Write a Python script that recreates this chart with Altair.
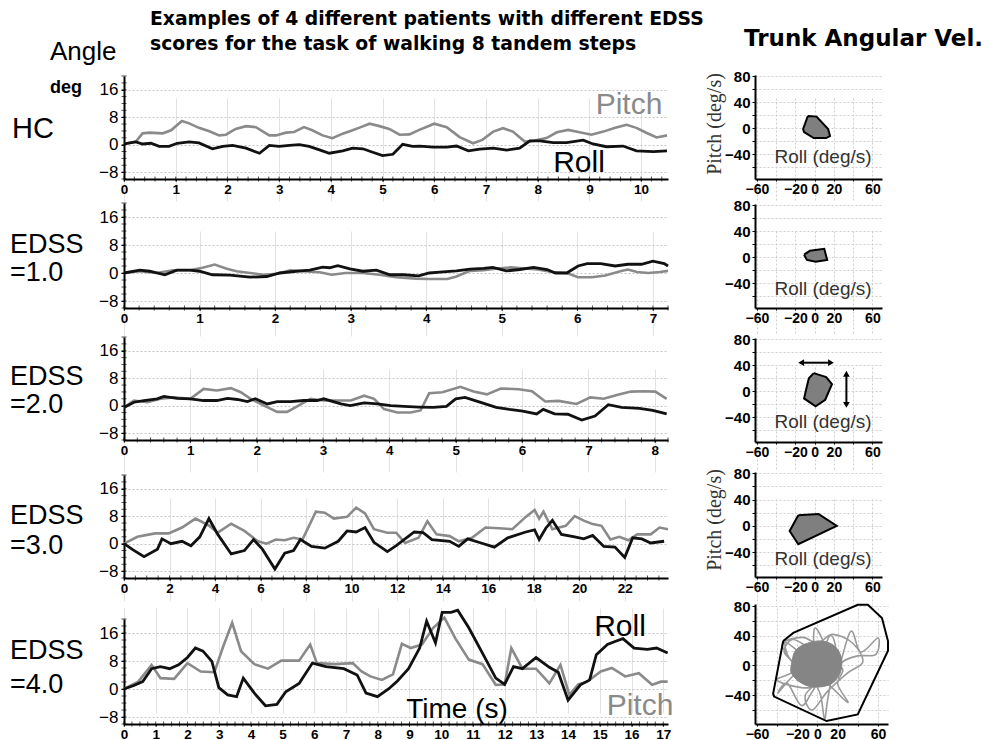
import altair as alt
import pandas as pd
import numpy as np

# ---------------- data ----------------
HC_PITCH_T = [0, 0.23, 0.36, 0.49, 0.75, 0.91, 1.12, 1.26, 1.45, 1.65, 1.84, 1.97, 2.16, 2.36, 2.55, 2.81, 2.94, 3.13, 3.29, 3.48, 3.64, 3.84, 4.03, 4.23, 4.42, 4.58, 4.75, 4.94, 5.13, 5.33, 5.52, 5.71, 6.0, 6.24, 6.49, 6.75, 6.93, 7.14, 7.33, 7.52, 7.75, 7.92, 8.17, 8.37, 8.59, 8.81, 9.04, 9.27, 9.5, 9.72, 9.91, 10.11, 10.3, 10.5]
HC_PITCH_V = [0.2, 0.9, 3.3, 3.5, 3.3, 4.2, 6.9, 6.2, 4.9, 3.9, 2.7, 2.9, 4.6, 5.4, 5.1, 2.7, 2.7, 3.5, 3.7, 5.1, 4.2, 2.7, 1.9, 3.2, 4.2, 5.1, 6.1, 5.4, 4.6, 2.9, 3.0, 4.3, 6.1, 5.1, 2.2, 0.4, 1.4, 3.8, 4.8, 3.8, 0.9, 1.1, 1.9, 3.6, 4.3, 3.6, 2.9, 3.8, 4.9, 5.8, 4.9, 3.4, 2.1, 2.7]
HC_ROLL_T = [0, 0.23, 0.36, 0.52, 0.68, 0.87, 1.03, 1.26, 1.45, 1.71, 1.91, 2.1, 2.36, 2.62, 2.81, 3.0, 3.2, 3.39, 3.58, 3.78, 3.97, 4.23, 4.42, 4.62, 4.81, 5.0, 5.2, 5.39, 5.58, 5.72, 5.98, 6.24, 6.43, 6.66, 6.88, 7.14, 7.4, 7.65, 7.85, 8.04, 8.3, 8.56, 8.88, 9.07, 9.33, 9.65, 9.91, 10.24, 10.5]
HC_ROLL_V = [0.2, 0.8, 0.2, 0.4, -0.5, -0.5, 0.4, 0.8, 0.5, -1.2, -0.5, -0.2, -1.0, -2.5, -0.2, -0.5, -0.2, 0, -0.5, -1.5, -2.5, -1.8, -1.0, -1.2, -2.2, -3.2, -2.8, 0.1, -0.5, -0.4, -0.7, -0.7, -0.4, -1.8, -1.3, -1.0, -1.6, -1.0, 1.1, 1.1, 0.6, 0.6, 1.3, 0.2, -0.6, -0.4, -1.8, -2.0, -1.8]

E1_PITCH_T = [0, 0.21, 0.43, 0.65, 0.87, 1.04, 1.2, 1.36, 1.49, 1.67, 1.85, 2.03, 2.2, 2.37, 2.59, 2.75, 2.93, 3.16, 3.38, 3.6, 3.86, 4.04, 4.28, 4.4, 4.58, 4.76, 4.94, 5.12, 5.3, 5.48, 5.66, 5.86, 6.01, 6.19, 6.37, 6.58, 6.67, 6.79, 6.94, 7.09, 7.2]
E1_PITCH_V = [0, 0.5, 0, 0.8, 0.8, 1.5, 2.4, 1.2, 0.5, 0, -0.5, -0.2, 0.8, 0.5, 0.2, -0.5, 0, 0, -0.5, -1.2, -1.6, -1.7, -1.7, -1.0, 0.6, 0.8, 1.3, 1.6, 1.3, 1.0, 0.3, 0, -1.2, -1.2, -0.7, 0.6, 1.0, 0.3, 0, 0.3, 0.6]
E1_ROLL_T = [0, 0.21, 0.34, 0.54, 0.7, 0.87, 1.0, 1.17, 1.4, 1.67, 1.89, 2.06, 2.28, 2.46, 2.63, 2.72, 2.83, 2.99, 3.16, 3.34, 3.52, 3.7, 3.9, 4.04, 4.22, 4.4, 4.58, 4.76, 4.88, 5.06, 5.24, 5.42, 5.6, 5.71, 5.86, 6.01, 6.13, 6.31, 6.5, 6.67, 6.85, 7.0, 7.15, 7.2]
E1_ROLL_V = [0, 0.8, 0.5, -0.5, 0.8, 0.8, 0.5, -0.5, -0.6, -1.2, -1.0, 0, 0.5, 0.8, 1.7, 1.5, 2.1, 1.2, 0.5, 0.8, -0.5, -0.5, -0.8, 0, 0.3, 0.6, 1.1, 1.3, 1.6, 0.6, 1.0, 1.6, 1.0, 0, 0, 2.0, 2.7, 2.7, 2.0, 2.5, 2.5, 3.4, 2.7, 2.0]

E2_PITCH_T = [0, 0.15, 0.35, 0.55, 0.75, 1.0, 1.2, 1.4, 1.61, 1.76, 1.91, 2.11, 2.31, 2.46, 2.61, 2.81, 3.01, 3.22, 3.42, 3.62, 3.77, 3.92, 4.12, 4.32, 4.47, 4.6, 4.8, 5.07, 5.27, 5.47, 5.68, 5.95, 6.15, 6.35, 6.55, 6.82, 7.03, 7.23, 7.43, 7.64, 7.84, 8.01, 8.18]
E2_PITCH_V = [-0.5, 1.5, 1.0, 2.0, 2.4, 2.0, 4.9, 4.4, 5.1, 3.9, 2.0, 0, -1.8, -1.8, -0.2, 2.0, 1.5, 1.5, 1.5, 2.9, 2.0, -1.0, -2.0, -2.0, -1.4, 3.6, 3.9, 5.5, 4.1, 3.3, 5.0, 4.8, 4.2, 1.2, 1.4, 0.5, 2.4, 2.0, 3.1, 4.1, 4.2, 4.1, 2.0]
E2_ROLL_T = [0, 0.15, 0.3, 0.5, 0.6, 0.8, 1.0, 1.2, 1.4, 1.56, 1.71, 1.86, 1.98, 2.16, 2.31, 2.51, 2.71, 2.91, 3.01, 3.27, 3.41, 3.62, 3.82, 4.02, 4.22, 4.45, 4.66, 4.86, 5.0, 5.14, 5.34, 5.61, 5.81, 6.01, 6.22, 6.32, 6.49, 6.69, 6.9, 7.1, 7.3, 7.5, 7.77, 7.97, 8.18]
E2_ROLL_V = [-0.5, 1.0, 1.5, 2.0, 2.7, 2.1, 2.0, 1.5, 1.5, 2.1, 1.8, 1.2, 2.0, 0.5, 1.2, 1.2, 1.5, 1.5, 2.0, 0.5, 0, 0.8, 0.5, 0, -0.2, -0.4, -0.5, -0.2, 2.0, 2.4, 1.2, -0.5, -1.1, -1.6, -2.4, -1.1, -2.4, -2.5, -4.2, -3.0, 0.3, -0.5, -0.8, -1.4, -2.4]

E3_PITCH_T = [0, 0.59, 1.37, 1.96, 2.55, 3.14, 3.73, 4.12, 4.71, 5.29, 5.88, 6.27, 6.67, 7.06, 7.45, 7.84, 8.43, 8.82, 9.22, 9.8, 10.2, 10.59, 10.98, 11.57, 11.96, 12.35, 12.94, 13.33, 13.73, 14.31, 14.71, 15.29, 15.88, 16.47, 17.06, 17.65, 18.04, 18.24, 18.43, 18.82, 19.41, 19.8, 20.2, 20.59, 20.98, 21.37, 21.76, 22.16, 22.55, 23.14, 23.53, 23.9]
E3_PITCH_V = [0, 2.0, 3.0, 3.0, 4.7, 7.3, 5.3, 3.2, 5.8, 3.7, 0.7, 0, 1.2, 1.0, 1.7, 1.2, 9.3, 9.0, 7.3, 7.8, 10.5, 8.8, 4.2, 3.2, 3.2, 0.2, 1.7, 6.5, 2.7, 2.2, 0.7, 1.7, 4.7, 4.5, 4.2, 7.8, 9.8, 7.3, 9.3, 4.2, 5.2, 8.0, 6.7, 5.7, 5.2, 1.2, 2.0, 1.0, 2.7, 2.7, 4.7, 4.2]
E3_ROLL_T = [0, 0.4, 0.88, 1.47, 1.67, 2.06, 2.55, 2.94, 3.33, 3.73, 4.12, 4.71, 5.29, 5.69, 6.08, 6.63, 7.06, 7.45, 7.75, 8.24, 8.82, 9.41, 9.8, 10.2, 10.59, 10.98, 11.57, 11.96, 12.75, 13.14, 13.53, 14.31, 14.71, 15.1, 15.69, 16.27, 16.86, 17.65, 18.04, 18.24, 18.53, 18.82, 19.22, 19.8, 20.2, 20.59, 21.08, 21.57, 22.0, 22.35, 22.75, 23.14, 23.73]
E3_ROLL_V = [0, -1.8, -3.8, -1.6, 1.4, 0, 0.7, -0.6, 2.0, 7.3, 2.7, -3.0, -2.0, 1.2, -1.6, -7.4, -2.8, -2.0, 1.2, -0.8, -1.3, 0.7, 3.7, 3.4, 4.7, 0.4, -2.3, -0.6, 3.4, 3.2, 1.2, 0.7, -0.8, 1.4, 0.2, -1.0, 1.7, 3.4, 4.0, 1.2, 4.5, 6.8, 2.7, 2.0, 1.4, 2.4, -0.8, -1.0, -4.0, 1.7, 1.4, 0.2, 0.7]

E4_PITCH_T = [0, 0.45, 0.87, 1.15, 1.58, 2.0, 2.42, 2.85, 3.13, 3.41, 3.69, 4.11, 4.54, 4.96, 5.52, 5.87, 6.08, 6.65, 7.21, 7.49, 7.77, 8.13, 8.48, 8.76, 9.04, 9.39, 9.75, 10.1, 10.45, 10.87, 11.3, 11.72, 12.0, 12.21, 12.56, 12.99, 13.41, 13.76, 14.04, 14.32, 14.61, 15.03, 15.38, 15.8, 16.23, 16.65, 16.93, 17.14]
E4_PITCH_V = [0, 2.1, 6.9, 3.1, 2.9, 7.4, 5.0, 4.8, 12.2, 18.9, 10.8, 7.1, 5.8, 8.1, 8.1, 12.7, 7.4, 7.1, 7.4, 5.0, 3.6, 2.6, 4.2, 12.9, 11.7, 12.7, 17.5, 20.4, 14.4, 8.4, 7.1, 1.2, 1.3, 11.7, 5.8, 5.8, 1.6, 6.9, -1.7, 1.3, 2.1, 5.0, 6.0, 3.6, 4.5, 1.2, 2.1, 2.1]
E4_ROLL_T = [0, 0.31, 0.59, 0.87, 1.15, 1.44, 1.72, 2.0, 2.25, 2.49, 2.77, 2.99, 3.27, 3.55, 3.76, 4.11, 4.46, 4.82, 5.1, 5.52, 5.94, 6.37, 6.93, 7.35, 7.63, 7.99, 8.34, 8.62, 8.97, 9.32, 9.54, 9.82, 10.03, 10.31, 10.52, 10.87, 11.44, 11.72, 12.0, 12.28, 12.56, 12.99, 13.41, 13.69, 14.0, 14.39, 14.68, 14.89, 15.24, 15.52, 15.73, 16.08, 16.5, 16.79, 17.14]
E4_ROLL_V = [0, 1.0, 2.1, 5.8, 6.4, 5.8, 6.9, 9.0, 11.7, 10.8, 7.9, 0.4, -1.7, -2.2, 3.1, -1.2, -4.8, -4.4, -0.8, 1.6, 7.4, 6.4, 5.8, 4.0, -1.2, -2.2, 0, 2.3, 5.8, 11.7, 19.4, 13.2, 21.9, 21.9, 22.5, 17.5, 7.9, 3.1, 1.3, 6.4, 5.8, 9.0, 6.2, 4.8, -3.2, 1.2, 2.6, 9.8, 12.7, 13.7, 14.4, 11.7, 11.3, 11.7, 10.3]

# right panels: convex hulls (roll deg/s, pitch deg/s)
H1_R = [-7, 2, 14, 16, 12, -1, -11, -12, -7]
H1_P = [19, 18, -1, -12, -15, -15, -6, -1, 19]
H2_R = [-11, -5, 10, 13, 1, -8, -11]
H2_P = [4, 10, 13, -4, -7, -4, 4]
H3_R = [-1, 12, 18, 11, 1, -11, -8, -6, -1]
H3_P = [28, 22, 11, -13, -23, -11, 8, 20, 28]
H4_R = [-17, 4, 23, -17, -26, -17]
H4_P = [16, 18, 0, -28, -8, 16]
H5_R = [-34, -24, 40, 50, 64, 70, 70, 40, 9, -43, -44, -34]
H5_P = [33, 44, 82, 82, 64, 33, 20, -66, -75, -42, -38, 33]
# dense core and trajectory of the EDSS 4.0 subject
CORE5_R = [-26, -22, -10, 5, 18, 24, 22, 12, -5, -18, -26, -26]
CORE5_P = [0, 20, 30, 33, 25, 8, -12, -26, -29, -22, -10, 0]
TRAJ5_R = [0, -10, -20, -32, -28, -15, -5, -3, 5, 10, 20, 33, 43, 60, 58, 40, 25, 15, 10, 7, 3, -5, -20, -39, -30, -16, -5, 5, 30, 20, 25, 10, -10, -25, -33, -20, -10, 0, 12, 18, 8, -8, -40, -22, -35, -15, 0, 15, 35, 45, 30, 10, -5, -12, 5, 0]
TRAJ5_P = [0, 8, 20, 31, 10, -5, 15, 50, 35, 10, -5, 46, 18, 37, 15, 13, 5, -15, -47, -72, -40, -20, -10, -37, -24, -54, -35, -20, -50, -25, -5, 5, 25, 35, 18, 0, -15, -5, 40, 20, -10, -30, -20, -5, 28, 38, 30, 42, 30, 5, -10, -35, -60, -40, -15, 0]
# arrows in the EDSS 2.0 panel
ARROW_H_R = [-14, 17]
ARROW_H_P = [44, 44]
ARROW_V_R = [33, 33]
ARROW_V_P = [27, -21]

# ---------------- layout constants ----------------
LEFT_W = 544
ROW_H = [127, 135, 135, 132, 124]
LEFT_RANGE = [(1, 104), (1, 106), (0, 103), (3, 106), (15, 120)]   # (top, bottom) px inside cell
RIGHT_RANGE = [(0, 104), (2, 106), (1, 105), (0, 105), (0, 120)]
RIGHT_W = [127, 127, 127, 127, 133]

SANS = "Liberation Sans, Arial, Helvetica, sans-serif"
NARROW = "Liberation Sans Narrow, Arial Narrow, Liberation Sans, Arial, sans-serif"
SERIF = "Liberation Serif, Times New Roman, serif"
TITLEF = "DejaVu Sans, Verdana, sans-serif"
GRAY = "#8a8a8a"


def txt(s, x, y, size, font=SANS, color="black", weight="normal", align="left",
        baseline="middle", angle=0):
    return alt.Chart(pd.DataFrame({"s": [s]})).mark_text(
        align=align, baseline=baseline, fontSize=size, font=font, color=color,
        fontWeight=weight, angle=angle
    ).encode(x=alt.value(x), y=alt.value(y), text="s:N")


def left_panel(i, pt, pv, rt, rv, xmax, xstep, minor, texts):
    H = ROW_H[i]
    top, bot = LEFT_RANGE[i]
    xticks = list(range(0, int(xmax) + 1, xstep))
    xs = alt.Scale(domain=[0, xmax], nice=False, zero=False)
    ys = alt.Scale(domain=[-10, 20], range=[bot, top], nice=False, zero=False)
    xaxis = alt.Axis(values=xticks, format="d", title=None, offset=bot - H, grid=True,
                     gridColor="#e2e2e2", gridWidth=1, domainColor="black",
                     domainWidth=2, tickColor="black", tickSize=2, labelFont=NARROW,
                     labelFontSize=13.5, labelFontWeight="bold", labelColor="black",
                     labelPadding=1, labelFlush=False, labelOverlap=False)
    yaxis = alt.Axis(values=[-8, 0, 8, 16], title=None, grid=True, gridColor="#c4c4c4",
                     gridDash=[2, 2], gridWidth=1, domainColor="black", domainWidth=2,
                     tickColor="black", tickSize=3, labelFont=NARROW, labelFontSize=17,
                     labelColor="black", labelPadding=3)

    def X(f):
        return alt.X(f + ":Q", scale=xs, axis=xaxis)

    def Y(f):
        return alt.Y(f + ":Q", scale=ys, axis=yaxis)

    pitch = alt.Chart(pd.DataFrame({"t": pt, "v": pv})).mark_line(
        color=GRAY, strokeWidth=2.6).encode(x=X("t"), y=Y("v"))
    roll = alt.Chart(pd.DataFrame({"t": rt, "v": rv})).mark_line(
        color="#111111", strokeWidth=2.8).encode(x=X("t"), y=Y("v"))
    mx = np.round(np.arange(0, xmax + 1e-9, minor), 3)
    mticks = alt.Chart(pd.DataFrame({"t": mx, "v": [-10] * len(mx)})).mark_tick(
        orient="vertical", size=5, thickness=1, color="black").encode(x=X("t"), y=Y("v"))
    my = np.arange(-10, 21, 2)
    yticks = alt.Chart(pd.DataFrame({"t": [0] * len(my), "v": my})).mark_tick(
        orient="horizontal", size=5, thickness=1, color="black").encode(x=X("t"), y=Y("v"))
    layers = [pitch, roll, mticks, yticks] + texts
    return alt.layer(*layers).properties(width=LEFT_W, height=H)


def right_panel(i, hr, hp, fill, under, over):
    H = ROW_H[i]
    top, bot = RIGHT_RANGE[i]
    W = RIGHT_W[i]
    ydom = [-79, 83] if i == 4 else [-78, 82]
    xs = alt.Scale(domain=[-62, 70], nice=False, zero=False)
    ys = alt.Scale(domain=ydom, range=[bot, top], nice=False, zero=False)
    xaxis = alt.Axis(values=[-60, -40, -20, 0, 20, 40, 60], title=None, offset=bot - H,
                     labelExpr="(datum.value == 40 || datum.value == -40) ? '' : datum.label",
                     grid=True, gridColor="#cfcfcf", gridDash=[2, 2], domainColor="black",
                     domainWidth=2, tickColor="black", tickSize=2, labelFont=NARROW,
                     labelFontSize=14, labelFontWeight="bold", labelColor="black",
                     labelPadding=1, labelFlush=False, labelOverlap=False)
    yaxis = alt.Axis(values=[-60, -40, -20, 0, 20, 40, 60, 80], title=None,
                     labelExpr="(datum.value == 80 || datum.value == 40 || datum.value == 0 || datum.value == -40) ? datum.label : ''",
                     grid=True, gridColor="#cfcfcf", gridDash=[2, 2], domainColor="black",
                     domainWidth=2, tickColor="black", tickSize=3, labelFont=NARROW,
                     labelFontSize=15, labelFontWeight="bold", labelColor="black",
                     labelPadding=2, labelOverlap=False)
    enc = dict(x=alt.X("r:Q", scale=xs, axis=xaxis), y=alt.Y("p:Q", scale=ys, axis=yaxis))
    hull_df = pd.DataFrame({"r": hr, "p": hp, "i": range(len(hr))})
    mark_kw = dict(color="black", strokeWidth=2)
    if fill:
        mark_kw["fill"] = fill
    hull = alt.Chart(hull_df).mark_line(**mark_kw).encode(order="i:Q", **enc)
    under = [c(enc) for c in under]
    over = [c(enc) if callable(c) else c for c in over]
    return alt.layer(*(under + [hull] + over)).properties(width=W, height=H)


# ---------------- left panels ----------------
lp0 = left_panel(0, HC_PITCH_T, HC_PITCH_V, HC_ROLL_T, HC_ROLL_V, 10.52, 1, 0.2, [
    txt("Examples of 4 different patients with different EDSS", 26, -56, 18.8, TITLEF, weight="bold"),
    txt("scores for the task of walking 8 tandem steps", 26, -31, 18.8, TITLEF, weight="bold"),
    txt("Angle", -74, -23, 26),
    txt("deg", -74, 13, 18, weight="bold"),
    txt("HC", -112, 54, 29),
    txt("Pitch", 505, 30, 30, NARROW, color=GRAY, align="center"),
    txt("Roll", 455, 88, 30, NARROW, align="center"),
])
lp1 = left_panel(1, E1_PITCH_T, E1_PITCH_V, E1_ROLL_T, E1_ROLL_V, 7.2, 1, 0.2, [
    txt("EDSS", -114, 43, 27), txt("=1.0", -114, 71, 27)])
lp2 = left_panel(2, E2_PITCH_T, E2_PITCH_V, E2_ROLL_T, E2_ROLL_V, 8.2, 1, 0.2, [
    txt("EDSS", -114, 40, 27), txt("=2.0", -114, 68, 27)])
lp3 = left_panel(3, E3_PITCH_T, E3_PITCH_V, E3_ROLL_T, E3_ROLL_V, 23.9, 2, 0.5, [
    txt("EDSS", -114, 44, 27), txt("=3.0", -114, 74, 27)])
lp4 = left_panel(4, E4_PITCH_T, E4_PITCH_V, E4_ROLL_T, E4_ROLL_V, 17.15, 1, 0.25, [
    txt("EDSS", -114, 47, 27), txt("=4.0", -114, 81, 27),
    txt("Roll", 496, 23, 30, NARROW, align="center"),
    txt("Pitch", 516, 102, 30, NARROW, color=GRAY, align="center"),
    txt("Time (s)", 333, 106, 28, NARROW, align="center"),
])

# ---------------- right panels ----------------
def roll_lbl(y):
    return txt("Roll (deg/s)", 68, y, 19, SANS, color="#333333", align="center")


def pitch_lbl(y):
    return txt("Pitch (deg/s)", -40, y, 20, SERIF, color="#333333", align="center", angle=270)


arrow_h = pd.DataFrame({"r": ARROW_H_R, "p": ARROW_H_P})
arrow_v = pd.DataFrame({"r": ARROW_V_R, "p": ARROW_V_P})
arrow_hp = pd.DataFrame({"r": ARROW_H_R, "p": ARROW_H_P, "s": ["triangle-left", "triangle-right"]})
arrow_vp = pd.DataFrame({"r": ARROW_V_R, "p": ARROW_V_P, "s": ["triangle-up", "triangle-down"]})
arrows = [
    lambda enc: alt.Chart(arrow_h).mark_line(color="black", strokeWidth=2).encode(**enc),
    lambda enc: alt.Chart(arrow_v).mark_line(color="black", strokeWidth=2).encode(**enc),
    lambda enc: alt.Chart(arrow_hp).mark_point(filled=True, color="black", size=45, opacity=1)
        .encode(shape=alt.Shape("s:N", scale=None), **enc),
    lambda enc: alt.Chart(arrow_vp).mark_point(filled=True, color="black", size=45, opacity=1)
        .encode(shape=alt.Shape("s:N", scale=None), **enc),
]

core_df = pd.DataFrame({"r": CORE5_R, "p": CORE5_P, "i": range(len(CORE5_R))})
traj_df = pd.DataFrame({"r": TRAJ5_R, "p": TRAJ5_P, "i": range(len(TRAJ5_R))})
core = lambda enc: alt.Chart(core_df).mark_line(
    color="#858585", fill="#858585", strokeWidth=1, interpolate="cardinal-closed").encode(order="i:Q", **enc)
traj = lambda enc: alt.Chart(traj_df).mark_line(
    color="#9a9a9a", strokeWidth=1.6, interpolate="cardinal").encode(order="i:Q", **enc)

rp0 = right_panel(0, H1_R, H1_P, "#7f7f7f", [], [
    roll_lbl(82), pitch_lbl(49),
    txt("Trunk Angular Vel.", -11, -36, 23, TITLEF, weight="bold")])
rp1 = right_panel(1, H2_R, H2_P, "#7f7f7f", [], [roll_lbl(87)])
rp2 = right_panel(2, H3_R, H3_P, "#7f7f7f", [], [roll_lbl(85)] + arrows)
rp3 = right_panel(3, H4_R, H4_P, "#7f7f7f", [], [roll_lbl(87), pitch_lbl(48)])
rp4 = right_panel(4, H5_R, H5_P, None, [traj, core], [])

chart = alt.concat(
    lp0, rp0, lp1, rp1, lp2, rp2, lp3, rp3, lp4, rp4,
    columns=2, spacing={"row": 0, "column": 87}, bounds="flush",
).properties(
    padding={"left": 2, "top": 2, "right": 0, "bottom": 0},
    background="white",
).configure_view(stroke=None)

chart.save("out.html", embed_options={"renderer": "svg", "actions": False})
